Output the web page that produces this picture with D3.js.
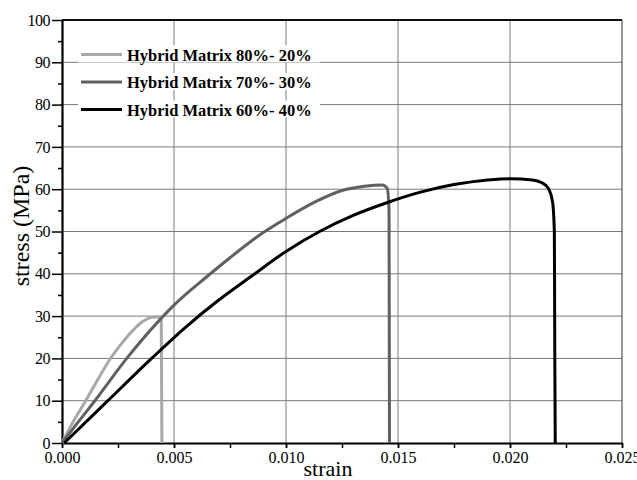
<!DOCTYPE html>
<html>
<head>
<meta charset="utf-8">
<script src="https://cdn.jsdelivr.net/npm/d3@7"></script>
<style>
  body { margin: 0; background: #fff; }
  svg { display: block; }
</style>
</head>
<body>
<svg id="chart" width="637" height="480"></svg>
<script>
var width = 637;
var height = 480;
var serif = "Liberation Serif, Times New Roman, serif";

// stress-strain curves: [strain, stress (MPa)]
var series80 = [[0, 0], [0.0005, 5], [0.00106, 10], [0.0016, 15], [0.00214, 19.8], [0.0027, 23.8], [0.0032, 26.8], [0.0036, 28.7], [0.004, 29.7], [0.0043, 29.8], [0.00443, 29], [0.00445, 10], [0.00446, 0]];
var series70 = [[0, 0], [0.0007, 4.8], [0.00147, 10], [0.00289, 20], [0.00452, 30], [0.005, 32.6], [0.00646, 39.3], [0.0075, 43.8], [0.009, 49.8], [0.010, 53.1], [0.0113, 57], [0.0125, 59.7], [0.0135, 60.7], [0.0143, 61], [0.01452, 60.2], [0.0146, 55], [0.01462, 0]];
var series60 = [[0.0001, 0], [0.00205, 10], [0.004, 20], [0.0055, 27.3], [0.007, 33.8], [0.0085, 39.6], [0.010, 45.3], [0.0115, 50], [0.013, 53.8], [0.0145, 56.8], [0.016, 59.3], [0.0175, 61.1], [0.019, 62.2], [0.020, 62.5], [0.021, 62.2], [0.0214, 61.6], [0.0217, 60.3], [0.0219, 57], [0.02198, 50], [0.022, 20], [0.02202, 0]];

var seriesNames = ["Hybrid Matrix 80%- 20%", "Hybrid Matrix 70%- 30%", "Hybrid Matrix 60%- 40%"];
var seriesColors = ["#a8a8a8", "#606060", "#000000"];

var xTicks = [0, 0.005, 0.010, 0.015, 0.020, 0.025];
var yTicks = [0, 10, 20, 30, 40, 50, 60, 70, 80, 90, 100];

// plot box (window.top is read-only, so no "top" here)
var mLeft = 62, mRight = 622, mTop = 20, mBottom = 443;

var svg = d3.select("#chart");

var x = d3.scaleLinear().domain([0, 0.025]).range([mLeft, mRight]);
var y = d3.scaleLinear().domain([0, 100]).range([mBottom, mTop]);

// ~~~~~ grid ~~~~~
var grid = svg.append("g").attr("stroke", "#7a7a7a").attr("stroke-width", 1);
grid.selectAll("line.h")
  .data(yTicks.filter(function(d) { return d > 0 && d < 100; }))
  .enter().append("line")
  .attr("class", "h")
  .attr("x1", mLeft).attr("x2", mRight)
  .attr("y1", function(d) { return y(d); })
  .attr("y2", function(d) { return y(d); });
grid.selectAll("line.v")
  .data(xTicks.filter(function(d) { return d > 0; }))
  .enter().append("line")
  .attr("class", "v")
  .attr("y1", mTop).attr("y2", mBottom)
  .attr("x1", function(d) { return x(d); })
  .attr("x2", function(d) { return x(d); })
  .attr("stroke", function(d) { return d == 0.025 ? "#333" : "#7a7a7a"; });

// top frame line
svg.append("line")
  .attr("x1", mLeft).attr("x2", mRight)
  .attr("y1", y(100)).attr("y2", y(100))
  .attr("stroke", "#111").attr("stroke-width", 2);

// ~~~~~ axes ~~~~~
var xMinor = d3.axisBottom(x).tickValues(d3.range(0, 0.0251, 0.0025)).tickSize(5).tickFormat("");
svg.append("g").attr("transform", "translate(0," + mBottom + ")").call(xMinor)
  .call(function(g) { g.select(".domain").remove(); g.selectAll("line").attr("stroke-width", 1.5); });

var xAxis = d3.axisBottom(x).tickValues(xTicks).tickSize(5).tickSizeOuter(0)
  .tickFormat(d3.format(".3f"));
svg.append("g").attr("transform", "translate(0," + mBottom + ")").call(xAxis)
  .attr("font-family", serif)
  .call(function(g) {
    g.select(".domain").attr("stroke-width", 2.2);
    g.selectAll("line").attr("stroke-width", 1.5);
    g.selectAll("text").attr("font-size", 16).attr("dy", "0").attr("y", 20).attr("fill", "#000");
  });

var yMinor = d3.axisLeft(y).tickValues(d3.range(5, 100, 10)).tickSize(4).tickFormat("");
svg.append("g").attr("transform", "translate(" + mLeft + ",0)").call(yMinor)
  .call(function(g) { g.select(".domain").remove(); g.selectAll("line").attr("stroke-width", 1.5); });

var yAxis = d3.axisLeft(y).tickValues(yTicks).tickSize(10).tickSizeOuter(0)
  .tickFormat(d3.format("d"));
svg.append("g").attr("transform", "translate(" + mLeft + ",0)").call(yAxis)
  .attr("font-family", serif)
  .call(function(g) {
    g.select(".domain").attr("stroke-width", 2.2);
    g.selectAll("line").attr("stroke-width", 1.5);
    g.selectAll("text").attr("font-size", 16).attr("x", -12).attr("fill", "#000").attr("letter-spacing", "-0.5");
  });

// axis titles
svg.append("text")
  .attr("x", 328).attr("y", 476)
  .attr("text-anchor", "middle")
  .attr("font-family", serif)
  .attr("font-size", 22)
  .text("strain");

svg.append("text")
  .attr("transform", "translate(29,226) rotate(-90)")
  .attr("text-anchor", "middle")
  .attr("font-family", serif)
  .attr("font-size", 24)
  .text("stress (MPa)");

// ~~~~~ curves ~~~~~
var line = d3.line()
  .x(function(d) { return x(d[0]); })
  .y(function(d) { return y(d[1]); })
  .curve(d3.curveMonotoneX);

var allSeries = [series80, series70, series60];
svg.selectAll("path.curve")
  .data(allSeries)
  .enter().append("path")
  .attr("class", "curve")
  .attr("d", line)
  .attr("fill", "none")
  .attr("stroke", function(d, i) { return seriesColors[i]; })
  .attr("stroke-width", 3)
  .attr("stroke-linejoin", "round");

// ~~~~~ legend ~~~~~
var legend = svg.append("g");
var rowY = [54.5, 82, 109.5];
var rows = legend.selectAll("g")
  .data(seriesNames)
  .enter().append("g")
  .attr("transform", function(d, i) { return "translate(0," + rowY[i] + ")"; });

rows.append("rect")
  .attr("x", 78).attr("y", -9).attr("width", 242).attr("height", 17)
  .attr("fill", "#fff");
rows.append("line")
  .attr("x1", 81).attr("x2", 122)
  .attr("stroke", function(d, i) { return seriesColors[i]; })
  .attr("stroke-width", 3);
rows.append("text")
  .attr("x", 127).attr("y", 6)
  .attr("font-family", serif)
  .attr("font-weight", "bold")
  .attr("font-size", 16.5)
  .text(function(d) { return d; });
</script>
</body>
</html>
